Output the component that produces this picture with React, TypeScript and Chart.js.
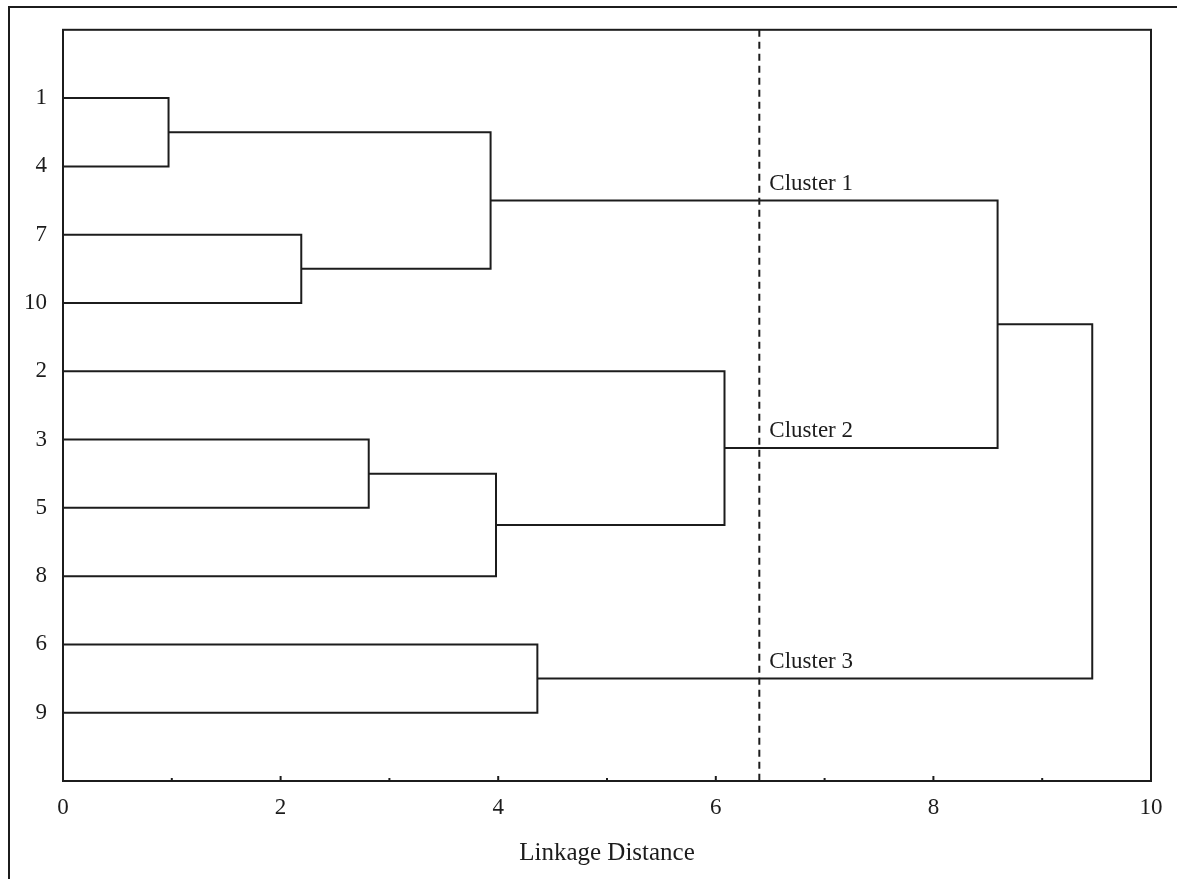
import React, { useEffect, useRef } from 'react';
import { Chart, registerables } from 'chart.js';

Chart.register(...registerables);

// Leaves in dendrogram order (top to bottom)
const leafLabels = ['1', '4', '7', '10', '2', '3', '5', '8', '6', '9'];
// Merges: leaves are nodes 0..9, merge k creates node 10 + k
const mergeLeft = [0, 2, 10, 5, 13, 4, 8, 12, 17];
const mergeRight = [1, 3, 11, 6, 7, 14, 9, 15, 16];
const mergeHeight = [0.97, 2.19, 3.93, 2.81, 3.98, 6.08, 4.36, 8.59, 9.46];
// Cut-off and cluster labels
const cutDistance = 6.4;
const clusterNames = ['Cluster 1', 'Cluster 2', 'Cluster 3'];
const clusterNodes = [12, 15, 16];
// x-axis tick values
const xTickValues = [0, 1, 2, 3, 4, 5, 6, 7, 8, 9, 10];

const FONT = '"Liberation Serif", "Times New Roman", serif';
const INK = '#1c1c1c';

function buildTree() {
  const pos: number[] = leafLabels.map((_, i) => i + 1);
  const hgt: number[] = leafLabels.map(() => 0);
  mergeHeight.forEach((h, k) => {
    pos.push((pos[mergeLeft[k]] + pos[mergeRight[k]]) / 2);
    hgt.push(h);
  });
  return { pos, hgt };
}

export default function App() {
  const ref = useRef<HTMLCanvasElement | null>(null);
  useEffect(() => {
    if (!ref.current) return;
    const { pos, hgt } = buildTree();
    const datasets: any[] = mergeHeight.map((h, k) => {
      const a = mergeLeft[k];
      const b = mergeRight[k];
      return {
        data: [
          { x: hgt[a], y: pos[a] },
          { x: h, y: pos[a] },
          { x: h, y: pos[b] },
          { x: hgt[b], y: pos[b] },
        ],
        showLine: true,
        borderColor: INK,
        borderWidth: 2,
        pointRadius: 0,
        tension: 0,
        fill: false,
      };
    });
    datasets.push({
      data: [
        { x: cutDistance, y: 0 },
        { x: cutDistance, y: leafLabels.length + 1 },
      ],
      showLine: true,
      borderColor: INK,
      borderWidth: 2,
      borderDash: [7, 5],
      pointRadius: 0,
      fill: false,
    });

    const framePlugin = {
      id: 'framePlugin',
      afterDatasetsDraw(chart: any) {
        const { ctx, chartArea, scales } = chart;
        ctx.save();
        ctx.strokeStyle = INK;
        ctx.lineWidth = 2;
        ctx.strokeRect(chartArea.left, chartArea.top, chartArea.right - chartArea.left, chartArea.bottom - chartArea.top);
        // inward ticks on x axis
        xTickValues.forEach((v) => {
          const px = scales.x.getPixelForValue(v);
          const len = v % 2 === 0 ? 5 : 3;
          ctx.beginPath();
          ctx.moveTo(px, chartArea.bottom);
          ctx.lineTo(px, chartArea.bottom - len);
          ctx.stroke();
        });
        // cluster labels
        ctx.fillStyle = INK;
        ctx.font = `23px ${FONT}`;
        ctx.textAlign = 'left';
        ctx.textBaseline = 'alphabetic';
        clusterNames.forEach((name, i) => {
          const px = scales.x.getPixelForValue(cutDistance) + 10;
          const py = scales.y.getPixelForValue(pos[clusterNodes[i]]) - 11;
          ctx.fillText(name, px, py);
        });
        ctx.restore();
      },
    };

    const chart = new Chart(ref.current, {
      type: 'scatter',
      data: { datasets },
      options: {
        animation: false,
        responsive: false,
        maintainAspectRatio: false,
        layout: { padding: { left: 0, top: 28, right: 26, bottom: 0 } },
        plugins: { legend: { display: false }, tooltip: { enabled: false } },
        scales: {
          x: {
            type: 'linear',
            min: 0,
            max: 10,
            afterFit: (s: any) => {
              s.height = 98;
            },
            afterBuildTicks: (s: any) => {
              s.ticks = xTickValues.map((v) => ({ value: v }));
            },
            ticks: {
              autoSkip: false,
              maxRotation: 0,
              padding: 13,
              color: INK,
              font: { family: FONT, size: 23 },
              callback: (v: any) => (Number(v) % 2 === 0 ? String(v) : ''),
            },
            grid: { display: false, drawTicks: false },
            border: { display: false },
            title: {
              display: true,
              text: 'Linkage Distance',
              color: INK,
              font: { family: FONT, size: 25 },
              padding: { top: 0, bottom: 11 },
            },
          },
          y: {
            type: 'linear',
            reverse: true,
            min: 0,
            max: leafLabels.length + 1,
            afterFit: (s: any) => {
              s.width = 63;
            },
            afterBuildTicks: (s: any) => {
              s.ticks = leafLabels.map((_, i) => ({ value: i + 1 }));
            },
            ticks: {
              autoSkip: false,
              padding: 16,
              color: INK,
              font: { family: FONT, size: 23 },
              callback: (v: any) => leafLabels[Number(v) - 1] ?? '',
            },
            grid: { display: false, drawTicks: false },
            border: { display: false },
          },
        },
      },
      plugins: [framePlugin],
    });
    return () => chart.destroy();
  }, []);

  return (
    <div style={{ position: 'fixed', left: 0, top: 0, width: 1177, height: 879, overflow: 'hidden', background: '#fff' }}>
      <div
        style={{
          position: 'absolute',
          left: 8,
          top: 6,
          width: 2000,
          height: 2000,
          borderLeft: `2px solid ${INK}`,
          borderTop: `2px solid ${INK}`,
        }}
      />
      <canvas ref={ref} width={1177} height={879} style={{ position: 'absolute', left: 0, top: 0, width: 1177, height: 879 }} />
    </div>
  );
}
